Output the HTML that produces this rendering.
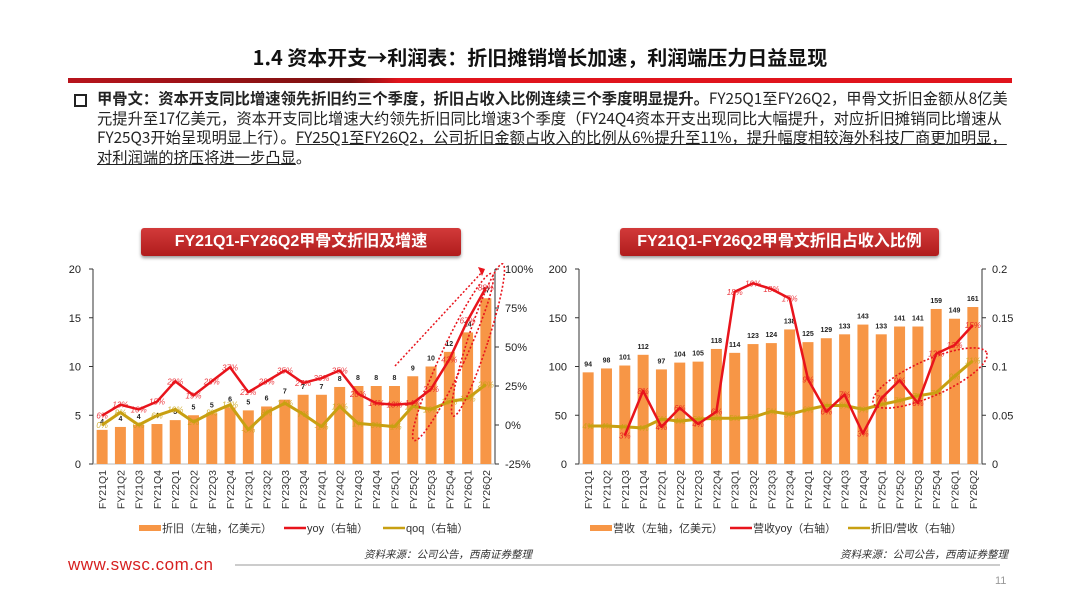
<!DOCTYPE html>
<html><head><meta charset="utf-8">
<style>
body{margin:0;width:1080px;height:608px;background:#fff;overflow:hidden;font-family:"Liberation Sans","Noto Sans CJK SC",sans-serif;position:relative}
.title{position:absolute;left:0;width:1080px;top:43px;text-align:center;font-size:20px;font-weight:bold;color:#111;font-family:"Noto Sans CJK SC",sans-serif;line-height:28px}
.rule{position:absolute;left:68px;top:78px;width:944px;height:5px;background:linear-gradient(90deg,#b8141c,#7a1010 30%,#e0141c 35%,#e0141c)}
.para{position:absolute;left:97px;top:89px;width:914px;font-size:15.3px;line-height:19.7px;color:#222;font-family:"Noto Sans CJK SC",sans-serif}
.bul{position:absolute;left:74px;top:94px;width:9px;height:9px;border:2px solid #222}
.para b{font-weight:bold}
.u{text-decoration:underline}
.banner{position:absolute;top:228px;height:28px;background:linear-gradient(#d23a3a,#b01c1c);border-radius:3px;box-shadow:0 2px 3px #999;color:#fff;font-weight:bold;font-size:16px;text-align:center;line-height:28px}
svg{position:absolute;left:0;top:0}
</style></head><body>
<div class="title">1.4 资本开支→利润表：折旧摊销增长加速，利润端压力日益显现</div>
<div class="rule"></div>
<div class="bul"></div>
<div class="para"><b>甲骨文：资本开支同比增速领先折旧约三个季度，折旧占收入比例连续三个季度明显提升。</b>FY25Q1至FY26Q2，甲骨文折旧金额从8亿美元提升至17亿美元，资本开支同比增速大约领先折旧同比增速3个季度（FY24Q4资本开支出现同比大幅提升，对应折旧摊销同比增速从FY25Q3开始呈现明显上行）。<span class="u">FY25Q1至FY26Q2，公司折旧金额占收入的比例从6%提升至11%，提升幅度相较海外科技厂商更加明显，对利润端的挤压将进一步凸显</span>。</div>
<div class="banner" style="left:141px;width:320px">FY21Q1-FY26Q2甲骨文折旧及增速</div>
<div class="banner" style="left:620px;width:319px">FY21Q1-FY26Q2甲骨文折旧占收入比例</div>
<svg id="s" width="1080" height="608" xmlns="http://www.w3.org/2000/svg" font-family="Liberation Sans, Noto Sans CJK SC, sans-serif"></svg>
<script>
const quarters=["FY21Q1","FY21Q2","FY21Q3","FY21Q4","FY22Q1","FY22Q2","FY22Q3","FY22Q4","FY23Q1","FY23Q2","FY23Q3","FY23Q4","FY24Q1","FY24Q2","FY24Q3","FY24Q4","FY25Q1","FY25Q2","FY25Q3","FY25Q4","FY26Q1","FY26Q2"];
const depr=[3.5,3.8,4,4.1,4.5,5,5.2,5.8,5.5,5.9,6.6,7.1,7.1,7.9,8,8,8,9,10,11.5,13.5,17];
const deprLabels=["4","4","4","4","5","5","5","6","5","6","7","7","7","8","8","8","8","9","10","12","14","17"];
const deprYoy=[6,13,10,15,28,19,28,37,21,28,35,27,30,35,20,14,13,14,23,42,67,88];
const deprQoq=[0,8,0,6,10,2,8,13,-3,8,14,7,-1,12,1,0,-1,12,10,15,17,26];
const revenue=[94,98,101,112,97,104,105,118,114,123,124,138,125,129,133,143,133,141,141,159,149,161];
const revYoy=[null,null,3,7.7,3.9,5.9,4.2,5.5,18.1,19,18.4,17.4,8.9,5.5,7.3,3.2,6.9,8.8,6.4,11.6,12.5,14.6];
const ratio=[0.039,0.039,0.038,0.037,0.046,0.044,0.046,0.047,0.047,0.048,0.054,0.051,0.056,0.060,0.060,0.056,0.061,0.065,0.070,0.073,0.090,0.106];
const leftTicks=[0,5,10,15,20];
const pctTicks=["-25%","0%","25%","50%","75%","100%"];
const revTicks=[0,50,100,150,200];
const ratioTicks=["0","0.05","0.1","0.15","0.2"];

const S=document.getElementById('s');const NS='http://www.w3.org/2000/svg';
function el(t,a,txt){const e=document.createElementNS(NS,t);for(const k in a)e.setAttribute(k,a[k]);if(txt!=null)e.textContent=txt;S.appendChild(e);return e;}

function chart(o){
  const x0=o.x0,x1=o.x1,yT=269,yB=464,n=quarters.length,bw=(x1-x0)/n;
  const xc=i=>x0+bw*(i+0.5);
  const yL=v=>yB-(v-o.lmin)/(o.lmax-o.lmin)*(yB-yT);
  const yR=v=>yB-(v-o.rmin)/(o.rmax-o.rmin)*(yB-yT);
  const yR2=v=>yB-(v-o.r2min)/(o.r2max-o.r2min)*(yB-yT);
  let a=el('line',{x1:x0,y1:yT,x2:x0,y2:yB,stroke:'#333'});
  a=el('line',{x1:x1,y1:yT,x2:x1,y2:yB,stroke:'#333'});
  a=el('line',{x1:x0,y1:yB,x2:x1,y2:yB,stroke:'#bbb'});
  o.lt.forEach(v=>{const y=yL(v);el('line',{x1:x0-4,y1:y,x2:x0,y2:y,stroke:'#333'});
    const t=el('text',{x:x0-12,y:y+4,'text-anchor':'end','font-size':11,fill:'#222'},v);});
  o.rt.forEach((lab,i)=>{const y=yB-i*(yB-yT)/(o.rt.length-1);el('line',{x1:x1,y1:y,x2:x1+4,y2:y,stroke:'#333'});
    const t=el('text',{x:x1+10,y:y+4,'font-size':11,fill:'#222'},lab);});
  o.bars.forEach((v,i)=>{const r=el('rect',{x:xc(i)-bw*0.3,y:yL(v),width:bw*0.6,height:yB-yL(v),fill:'#f79646'});
    
    const t=el('text',{x:xc(i),y:yL(v)-6,'text-anchor':'middle','font-size':7,'font-weight':'bold',fill:'#222'},o.barLab?o.barLab[i]:v);
    
    const q=el('text',{x:xc(i)+4,y:yB+6,'font-size':10.5,fill:'#333','text-anchor':'end',transform:`rotate(-90 ${xc(i)+4} ${yB+6})`},quarters[i]);
    });
  function line(vals,ys,col,w,name,fmt){
    let d='';vals.forEach((v,i)=>{if(v==null)return;d+=(d?'L':'M')+xc(i).toFixed(1)+','+ys(v).toFixed(1);});
    const p=el('path',{d:d,fill:'none',stroke:col,'stroke-width':w,'stroke-linejoin':'round'});
    
    vals.forEach((v,i)=>{if(v==null)return;const t=el('text',{x:xc(i),y:ys(v)+3,'text-anchor':'middle','font-size':8,'font-style':'italic',fill:col,opacity:0.85},fmt(v));
      });
  }
  line(o.l2,o.l2scale==='r2'?yR2:yR,'#c8a012',3,o.id+'-line2',o.f2);
  line(o.l1,o.l1scale==='r2'?yR2:yR,'#e8141c',2.5,o.id+'-line1',o.f1);
  let lx=o.legX;
  o.leg.forEach((g,i)=>{
    if(i==0){const r=el('rect',{x:lx,y:525,width:22,height:6,fill:'#f79646'});}
    else{const l=el('line',{x1:lx,y1:528,x2:lx+22,y2:528,stroke:i==1?'#e8141c':'#c8a012','stroke-width':2.5});}
    const t=el('text',{x:lx+23,y:532,'font-size':11,fill:'#333'},g.t);
    lx+=g.w;});
  const src=el('text',{x:o.srcX,y:558,'font-size':10.5,'font-style':'italic',fill:'#333','text-anchor':'end'},'资料来源：公司公告，西南证券整理');
  
  return {xc,yR,yL};
}
const L=chart({id:'depr-chart',x0:93,x1:495,lmin:0,lmax:20,rmin:-25,rmax:100,lt:leftTicks,rt:pctTicks,bars:depr,barLab:deprLabels,
  l1:deprYoy,l2:deprQoq,f1:v=>Math.round(v)+'%',f2:v=>Math.round(v)+'%',
  legX:139,leg:[{t:'折旧（左轴，亿美元）',w:145},{t:'yoy（右轴）',w:99},{t:'qoq（右轴）',w:0}],srcX:532});
const R=chart({id:'ratio-chart',x0:579,x1:982,lmin:0,lmax:200,rmin:0,rmax:0.2,r2min:0,r2max:20.5,lt:revTicks,rt:ratioTicks,bars:revenue,
  l1:revYoy,l1scale:'r2',l2:ratio,f1:v=>Math.round(v)+'%',f2:v=>Math.round(v*100)+'%',
  legX:590,leg:[{t:'营收（左轴，亿美元）',w:140},{t:'营收yoy（右轴）',w:118},{t:'折旧/营收（右轴）',w:0}],srcX:1008});
let an=el('path',{d:'M395,366 L484,270',stroke:'#e8141c','stroke-width':1.5,'stroke-dasharray':'2,2',fill:'none'});

an=el('path',{d:'M478,267 L485,269 L482,276Z',fill:'#e8141c'});

an=el('ellipse',{cx:453,cy:357,rx:12,ry:92,transform:'rotate(25 453 357)',stroke:'#e8141c','stroke-width':1.6,'stroke-dasharray':'2,2',fill:'none'});

an=el('ellipse',{cx:478,cy:340,rx:10,ry:80,transform:'rotate(18 478 340)',stroke:'#e8141c','stroke-width':1.6,'stroke-dasharray':'2,2',fill:'none'});

an=el('ellipse',{cx:930,cy:378,rx:62,ry:18,transform:'rotate(-24 930 378)',stroke:'#e8141c','stroke-width':1.6,'stroke-dasharray':'2,2',fill:'none'});

let f=el('text',{x:68,y:570,'font-size':17,fill:'#d62020','letter-spacing':'0.5'},'www.swsc.com.cn');
f=el('line',{x1:235,y1:565,x2:1000,y2:565,stroke:'#bbb','stroke-width':1.5});
f=el('text',{x:995,y:584,'font-size':11,fill:'#999'},'11');
</script>
</body></html>
